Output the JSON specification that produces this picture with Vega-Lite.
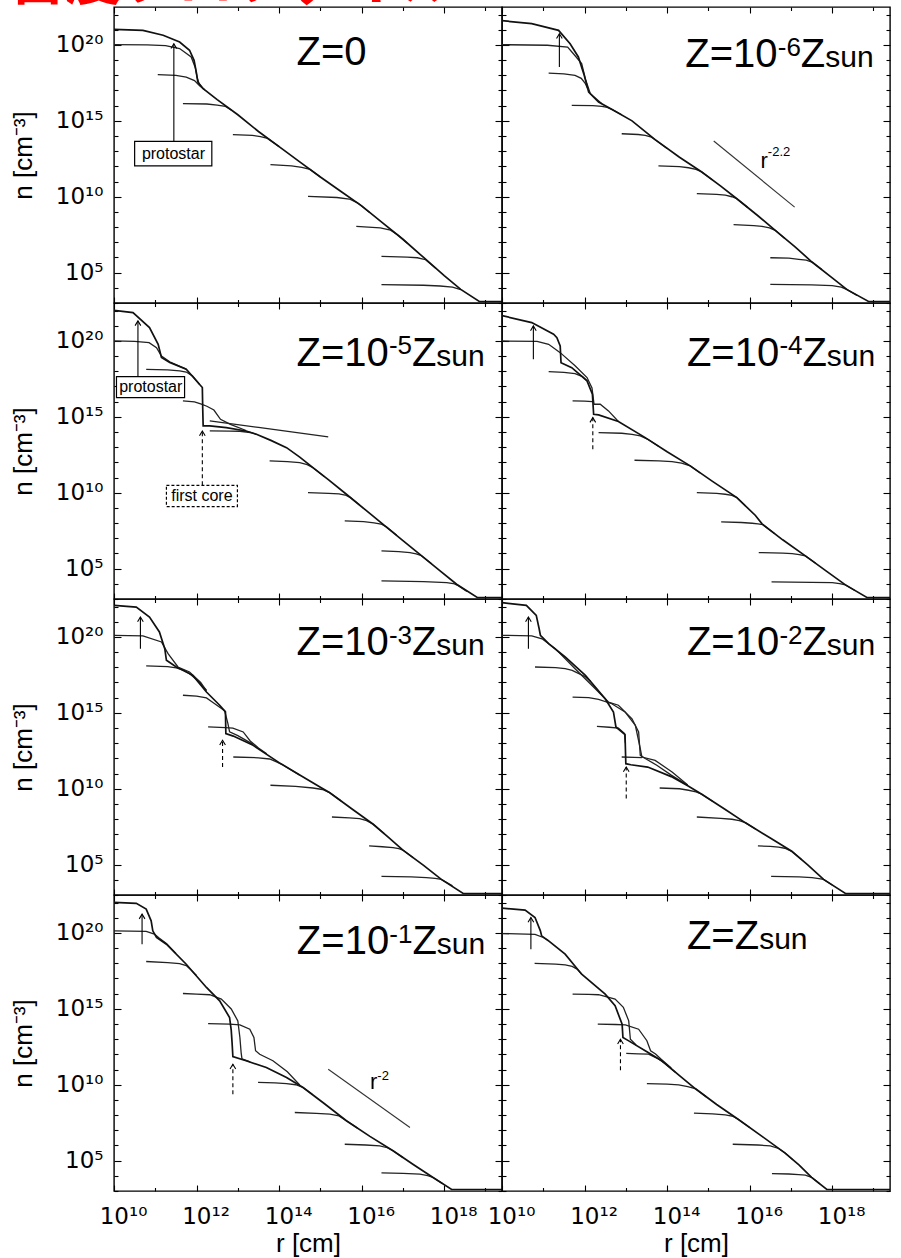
{
"$schema":"https://vega.github.io/schema/vega-lite/v6.json",
"background":"white",
"padding":{"left":9,"top":-47,"right":5,"bottom":0},
"title":{"text":"密度プロファイル","anchor":"start","font":"Noto Sans CJK JP","fontSize":56,"fontWeight":"bold","color":"#ff0000","offset":-8},
"config":{
 "view":{"stroke":"#000","strokeWidth":1.4},
 "axis":{"domain":false,"grid":false,"tickColor":"#000","tickWidth":1.1,"labelFont":"DejaVu Sans","labelFontSize":23,"labelColor":"#000","labelFlush":false,"labelOverlap":false,"labelBound":false,"titleFont":"Liberation Sans","titleFontSize":26,"titleFontWeight":"normal","titleColor":"#000"},
 "text":{"font":"Liberation Sans","color":"#000"},
 "point":{"opacity":1}
},
"datasets":{
"d1L":[
{"k":"m","logr":10,"logn":21.03},{"k":"m","logr":10.7,"logn":20.96},{"k":"m","logr":11.19,"logn":20.64},{"k":"m","logr":11.59,"logn":20.19},{"k":"m","logr":11.83,"logn":19.65},{"k":"m","logr":11.94,"logn":18.99},{"k":"m","logr":12.0,"logn":18.11},{"k":"m","logr":12.03,"logn":17.56},{"k":"m","logr":12.16,"logn":17.12},{"k":"m","logr":12.5,"logn":16.4},{"k":"m","logr":13.0,"logn":15.4},{"k":"m","logr":13.5,"logn":14.3},{"k":"m","logr":14.0,"logn":13.3},{"k":"m","logr":14.5,"logn":12.3},{"k":"m","logr":15.0,"logn":11.3},{"k":"m","logr":15.5,"logn":10.35},{"k":"m","logr":16.0,"logn":9.4},{"k":"m","logr":16.5,"logn":8.3},{"k":"m","logr":17.0,"logn":7.2},{"k":"m","logr":17.5,"logn":6.0},{"k":"m","logr":18.0,"logn":4.8},{"k":"m","logr":18.4,"logn":3.9},{"k":"m","logr":18.85,"logn":3.1},{"k":"m","logr":19.4,"logn":3.1},
{"k":"c","id":"B","logr":10,"logn":20.02},{"k":"c","id":"B","logr":10.8,"logn":20.0},{"k":"c","id":"B","logr":11.25,"logn":19.96},{"k":"c","id":"B","logr":11.59,"logn":19.76},{"k":"c","id":"B","logr":11.87,"logn":19.21},{"k":"c","id":"B","logr":11.97,"logn":18.5},{"k":"c","id":"B","logr":12.01,"logn":17.9},{"k":"c","id":"B","logr":12.06,"logn":17.45},{"k":"c","id":"B","logr":12.16,"logn":17.12},
{"k":"c","id":"C","logr":11.06,"logn":18.04},{"k":"c","id":"C","logr":11.5,"logn":18.0},{"k":"c","id":"C","logr":11.75,"logn":17.88},{"k":"c","id":"C","logr":11.95,"logn":17.65},{"k":"c","id":"C","logr":12.08,"logn":17.3},{"k":"c","id":"C","logr":12.2,"logn":17.04},
{"k":"c","id":"D","logr":11.67,"logn":16.13},{"k":"c","id":"D","logr":12.25,"logn":16.11},{"k":"c","id":"D","logr":12.5,"logn":16.04},{"k":"c","id":"D","logr":12.7,"logn":15.95},{"k":"c","id":"D","logr":12.85,"logn":15.7},
{"k":"c","id":"E","logr":12.88,"logn":14.09},{"k":"c","id":"E","logr":13.35,"logn":14.04},{"k":"c","id":"E","logr":13.55,"logn":13.96},{"k":"c","id":"E","logr":13.72,"logn":13.84},{"k":"c","id":"E","logr":14.0,"logn":13.3},
{"k":"c","id":"F","logr":13.79,"logn":12.11},{"k":"c","id":"F","logr":14.3,"logn":12.03},{"k":"c","id":"F","logr":14.55,"logn":11.93},{"k":"c","id":"F","logr":14.75,"logn":11.8},{"k":"c","id":"F","logr":15.0,"logn":11.3},
{"k":"c","id":"G","logr":14.7,"logn":10.03},{"k":"c","id":"G","logr":15.4,"logn":9.95},{"k":"c","id":"G","logr":15.7,"logn":9.85},{"k":"c","id":"G","logr":15.9,"logn":9.6},{"k":"c","id":"G","logr":16.2,"logn":8.95},
{"k":"c","id":"H","logr":15.87,"logn":8.05},{"k":"c","id":"H","logr":16.45,"logn":7.95},{"k":"c","id":"H","logr":16.7,"logn":7.8},{"k":"c","id":"H","logr":16.87,"logn":7.5},{"k":"c","id":"H","logr":17.1,"logn":6.96},
{"k":"c","id":"I","logr":16.48,"logn":6.07},{"k":"c","id":"I","logr":17.1,"logn":6.02},{"k":"c","id":"I","logr":17.35,"logn":5.98},{"k":"c","id":"I","logr":17.55,"logn":5.85},{"k":"c","id":"I","logr":17.8,"logn":5.28},
{"k":"c","id":"J","logr":16.48,"logn":4.21},{"k":"c","id":"J","logr":17.5,"logn":4.17},{"k":"c","id":"J","logr":17.9,"logn":4.12},{"k":"c","id":"J","logr":18.2,"logn":4.05},{"k":"c","id":"J","logr":18.4,"logn":3.88},
{"k":"a","logr":11.45,"logn":13.65,"logn2":20.08},
{"k":"b","logr":10.5,"logr2":12.37,"logn":12.03,"logn2":13.65},
{"k":"tl","logr":11.44,"logn":12.84,"txt":"protostar"},
{"k":"tb","logr":14.42,"logn":18.66,"txt":"Z=0"}
],
"d1R":[
{"k":"m","logr":10,"logn":21.6},{"k":"m","logr":10.72,"logn":21.4},{"k":"m","logr":11.37,"logn":20.96},{"k":"m","logr":11.65,"logn":20.08},{"k":"m","logr":11.85,"logn":19.21},{"k":"m","logr":11.98,"logn":18.11},{"k":"m","logr":12.1,"logn":16.9},{"k":"m","logr":12.34,"logn":16.24},{"k":"m","logr":12.7,"logn":15.7},{"k":"m","logr":13.15,"logn":15.0},{"k":"m","logr":13.71,"logn":13.76},{"k":"m","logr":14.3,"logn":12.6},{"k":"m","logr":14.84,"logn":11.63},{"k":"m","logr":15.3,"logn":10.7},{"k":"m","logr":15.69,"logn":9.87},{"k":"m","logr":16.2,"logn":8.75},{"k":"m","logr":16.62,"logn":7.79},{"k":"m","logr":17.1,"logn":6.7},{"k":"m","logr":17.51,"logn":5.7},{"k":"m","logr":18.0,"logn":4.65},{"k":"m","logr":18.36,"logn":3.88},{"k":"m","logr":18.88,"logn":3.1},{"k":"m","logr":19.4,"logn":3.1},
{"k":"c","id":"B","logr":10,"logn":20.02},{"k":"c","id":"B","logr":11.1,"logn":19.98},{"k":"c","id":"B","logr":11.59,"logn":19.86},{"k":"c","id":"B","logr":11.73,"logn":19.42},{"k":"c","id":"B","logr":11.93,"logn":18.77},{"k":"c","id":"B","logr":12.03,"logn":17.67},{"k":"c","id":"B","logr":12.14,"logn":16.79},{"k":"c","id":"B","logr":12.42,"logn":16.13},
{"k":"c","id":"C","logr":11.13,"logn":18.15},{"k":"c","id":"C","logr":11.5,"logn":18.1},{"k":"c","id":"C","logr":11.77,"logn":18.0},{"k":"c","id":"C","logr":11.92,"logn":17.8},{"k":"c","id":"C","logr":12.02,"logn":17.45},{"k":"c","id":"C","logr":12.08,"logn":17.1},
{"k":"c","id":"D","logr":11.69,"logn":16.02},{"k":"c","id":"D","logr":12.2,"logn":16.0},{"k":"c","id":"D","logr":12.42,"logn":15.96},{"k":"c","id":"D","logr":12.55,"logn":15.88},{"k":"c","id":"D","logr":12.66,"logn":15.76},{"k":"c","id":"D","logr":12.9,"logn":15.4},
{"k":"c","id":"E","logr":12.9,"logn":14.15},{"k":"c","id":"E","logr":13.3,"logn":14.1},{"k":"c","id":"E","logr":13.47,"logn":14.05},{"k":"c","id":"E","logr":13.6,"logn":13.95},{"k":"c","id":"E","logr":13.71,"logn":13.76},{"k":"c","id":"E","logr":14.0,"logn":13.18},
{"k":"c","id":"F","logr":13.79,"logn":12.03},{"k":"c","id":"F","logr":14.3,"logn":11.98},{"k":"c","id":"F","logr":14.52,"logn":11.91},{"k":"c","id":"F","logr":14.7,"logn":11.8},{"k":"c","id":"F","logr":14.84,"logn":11.63},{"k":"c","id":"F","logr":15.1,"logn":11.1},
{"k":"c","id":"G","logr":14.72,"logn":10.2},{"k":"c","id":"G","logr":15.2,"logn":10.15},{"k":"c","id":"G","logr":15.41,"logn":10.1},{"k":"c","id":"G","logr":15.57,"logn":10.0},{"k":"c","id":"G","logr":15.69,"logn":9.87},{"k":"c","id":"G","logr":15.95,"logn":9.3},
{"k":"c","id":"H","logr":15.61,"logn":8.16},{"k":"c","id":"H","logr":16.1,"logn":8.1},{"k":"c","id":"H","logr":16.3,"logn":8.05},{"k":"c","id":"H","logr":16.48,"logn":7.95},{"k":"c","id":"H","logr":16.62,"logn":7.79},{"k":"c","id":"H","logr":16.85,"logn":7.25},
{"k":"c","id":"I","logr":16.5,"logn":5.98},{"k":"c","id":"I","logr":16.95,"logn":5.95},{"k":"c","id":"I","logr":17.19,"logn":5.88},{"k":"c","id":"I","logr":17.37,"logn":5.82},{"k":"c","id":"I","logr":17.51,"logn":5.7},{"k":"c","id":"I","logr":17.75,"logn":5.2},
{"k":"c","id":"J","logr":16.5,"logn":4.23},{"k":"c","id":"J","logr":17.5,"logn":4.2},{"k":"c","id":"J","logr":18.0,"logn":4.14},{"k":"c","id":"J","logr":18.22,"logn":4.05},{"k":"c","id":"J","logr":18.36,"logn":3.88},{"k":"c","id":"J","logr":18.6,"logn":3.5},
{"k":"s","logr":15.13,"logn":13.67},{"k":"s","logr":17.09,"logn":9.32},
{"k":"tr","logr":16.26,"logn":11.89,"txt":"r"},{"k":"trs","logr":16.44,"logn":12.66,"txt":"-2.2"},
{"k":"a","logr":11.39,"logn":18.55,"logn2":20.74},
{"k":"tb","logr":14.44,"logn":18.55,"txt":"Z=10"},{"k":"ts","logr":16.68,"logn":19.3,"txt":"-6"},{"k":"tb","logr":17.24,"logn":18.55,"txt":"Z"},{"k":"tu","logr":17.83,"logn":18.55,"txt":"sun"}
],
"d2L":[
{"k":"m","logr":10,"logn":22.02},{"k":"m","logr":10.46,"logn":21.87},{"k":"m","logr":10.86,"logn":20.88},{"k":"m","logr":11.07,"logn":19.78},{"k":"m","logr":11.15,"logn":18.91},{"k":"m","logr":11.35,"logn":18.58},{"k":"m","logr":11.75,"logn":18.14},{"k":"m","logr":12.07,"logn":17.15},{"k":"m","logr":12.14,"logn":16.93},{"k":"m","logr":12.15,"logn":15.5},{"k":"m","logr":12.16,"logn":14.4},{"k":"m","logr":12.32,"logn":14.4},{"k":"m","logr":12.72,"logn":14.29},{"k":"m","logr":13.2,"logn":14.07},{"k":"m","logr":13.45,"logn":13.85},{"k":"m","logr":13.8,"logn":13.45},{"k":"m","logr":14.18,"logn":12.97},{"k":"m","logr":14.5,"logn":12.35},{"k":"m","logr":14.82,"logn":11.65},{"k":"m","logr":15.2,"logn":10.85},{"k":"m","logr":15.63,"logn":9.9},{"k":"m","logr":16.1,"logn":8.85},{"k":"m","logr":16.52,"logn":7.92},{"k":"m","logr":17.0,"logn":6.85},{"k":"m","logr":17.41,"logn":5.94},{"k":"m","logr":17.9,"logn":4.85},{"k":"m","logr":18.3,"logn":3.97},{"k":"m","logr":18.8,"logn":3.1},{"k":"m","logr":19.4,"logn":3.1},
{"k":"c","id":"B","logr":10,"logn":20.0},{"k":"c","id":"B","logr":10.5,"logn":19.97},{"k":"c","id":"B","logr":10.85,"logn":19.89},{"k":"c","id":"B","logr":11.03,"logn":19.56},{"k":"c","id":"B","logr":11.15,"logn":19.0},{"k":"c","id":"B","logr":11.35,"logn":18.62},{"k":"c","id":"B","logr":11.75,"logn":18.14},
{"k":"c","id":"C","logr":10.78,"logn":18.13},{"k":"c","id":"C","logr":11.3,"logn":18.1},{"k":"c","id":"C","logr":11.59,"logn":18.03},{"k":"c","id":"C","logr":11.75,"logn":17.95},{"k":"c","id":"C","logr":11.9,"logn":17.7},{"k":"c","id":"C","logr":12.07,"logn":17.15},
{"k":"c","id":"D","logr":11.67,"logn":16.05},{"k":"c","id":"D","logr":11.95,"logn":15.98},{"k":"c","id":"D","logr":12.1,"logn":15.85},{"k":"c","id":"D","logr":12.25,"logn":15.7},{"k":"c","id":"D","logr":12.42,"logn":15.45},{"k":"c","id":"D","logr":12.58,"logn":14.84},{"k":"c","id":"D","logr":12.82,"logn":14.51},{"k":"c","id":"D","logr":13.2,"logn":14.1},
{"k":"c","id":"S","logr":12.32,"logn":14.73},{"k":"c","id":"S","logr":13.5,"logn":14.3},{"k":"c","id":"S","logr":15.19,"logn":13.68},
{"k":"c","id":"E","logr":12.32,"logn":14.07},{"k":"c","id":"E","logr":12.8,"logn":14.06},{"k":"c","id":"E","logr":13.05,"logn":14.05},{"k":"c","id":"E","logr":13.3,"logn":13.97},{"k":"c","id":"E","logr":13.45,"logn":13.85},
{"k":"c","id":"F","logr":13.77,"logn":12.1},{"k":"c","id":"F","logr":14.2,"logn":12.05},{"k":"c","id":"F","logr":14.5,"logn":11.99},{"k":"c","id":"F","logr":14.68,"logn":11.85},{"k":"c","id":"F","logr":14.82,"logn":11.65},{"k":"c","id":"F","logr":15.1,"logn":11.06},
{"k":"c","id":"G","logr":14.7,"logn":10.01},{"k":"c","id":"G","logr":15.2,"logn":9.96},{"k":"c","id":"G","logr":15.45,"logn":9.92},{"k":"c","id":"G","logr":15.6,"logn":9.85},{"k":"c","id":"G","logr":15.72,"logn":9.7},{"k":"c","id":"G","logr":15.95,"logn":9.2},
{"k":"c","id":"H","logr":15.59,"logn":8.15},{"k":"c","id":"H","logr":16.05,"logn":8.1},{"k":"c","id":"H","logr":16.3,"logn":8.02},{"k":"c","id":"H","logr":16.47,"logn":7.94},{"k":"c","id":"H","logr":16.6,"logn":7.75},{"k":"c","id":"H","logr":16.85,"logn":7.2},
{"k":"c","id":"I","logr":16.48,"logn":6.17},{"k":"c","id":"I","logr":16.9,"logn":6.12},{"k":"c","id":"I","logr":17.17,"logn":6.06},{"k":"c","id":"I","logr":17.32,"logn":5.98},{"k":"c","id":"I","logr":17.45,"logn":5.85},{"k":"c","id":"I","logr":17.7,"logn":5.3},
{"k":"c","id":"J","logr":16.48,"logn":4.19},{"k":"c","id":"J","logr":17.5,"logn":4.14},{"k":"c","id":"J","logr":18.06,"logn":4.08},{"k":"c","id":"J","logr":18.22,"logn":4.02},{"k":"c","id":"J","logr":18.34,"logn":3.88},{"k":"c","id":"J","logr":18.55,"logn":3.5},
{"k":"a","logr":10.58,"logn":17.65,"logn2":21.32},
{"k":"b","logr":10.06,"logr2":11.71,"logn":16.27,"logn2":17.65},
{"k":"tl","logr":10.89,"logn":16.96,"txt":"protostar"},
{"k":"da","logr":12.14,"logn":10.49,"logn2":14.07},
{"k":"db","logr":11.27,"logr2":12.99,"logn":9.09,"logn2":10.49},
{"k":"tl","logr":12.13,"logn":9.79,"txt":"first core"},
{"k":"tb","logr":14.42,"logn":18.36,"txt":"Z=10"},{"k":"ts","logr":16.66,"logn":19.11,"txt":"-5"},{"k":"tb","logr":17.22,"logn":18.36,"txt":"Z"},{"k":"tu","logr":17.81,"logn":18.36,"txt":"sun"}
],
"d2R":[
{"k":"m","logr":10,"logn":21.67},{"k":"m","logr":10.72,"logn":21.21},{"k":"m","logr":11.25,"logn":20.44},{"k":"m","logr":11.33,"logn":20.22},{"k":"m","logr":11.41,"logn":19.67},{"k":"m","logr":11.43,"logn":18.57},{"k":"m","logr":11.69,"logn":18.24},{"k":"m","logr":12.06,"logn":17.37},{"k":"m","logr":12.19,"logn":16.49},{"k":"m","logr":12.22,"logn":15.17},{"k":"m","logr":12.34,"logn":15.13},{"k":"m","logr":12.82,"logn":14.69},{"k":"m","logr":13.47,"logn":13.63},{"k":"m","logr":14.0,"logn":12.7},{"k":"m","logr":14.56,"logn":11.77},{"k":"m","logr":15.1,"logn":10.75},{"k":"m","logr":15.69,"logn":9.68},{"k":"m","logr":16.14,"logn":8.5},{"k":"m","logr":16.3,"logn":7.95},{"k":"m","logr":16.8,"logn":6.9},{"k":"m","logr":17.35,"logn":5.84},{"k":"m","logr":17.85,"logn":4.85},{"k":"m","logr":18.32,"logn":3.93},{"k":"m","logr":18.84,"logn":3.1},{"k":"m","logr":19.4,"logn":3.1},
{"k":"c","id":"B","logr":10,"logn":20.0},{"k":"c","id":"B","logr":10.85,"logn":19.97},{"k":"c","id":"B","logr":11.13,"logn":19.78},{"k":"c","id":"B","logr":11.41,"logn":19.23},{"k":"c","id":"B","logr":11.77,"logn":18.36},{"k":"c","id":"B","logr":12.06,"logn":17.59},{"k":"c","id":"B","logr":12.18,"logn":16.9},{"k":"c","id":"B","logr":12.23,"logn":15.83},{"k":"c","id":"B","logr":12.38,"logn":15.83},{"k":"c","id":"B","logr":12.58,"logn":15.39},{"k":"c","id":"B","logr":12.82,"logn":14.69},
{"k":"c","id":"C","logr":11.13,"logn":17.98},{"k":"c","id":"C","logr":11.5,"logn":17.93},{"k":"c","id":"C","logr":11.77,"logn":17.85},{"k":"c","id":"C","logr":11.95,"logn":17.65},{"k":"c","id":"C","logr":12.06,"logn":17.37},
{"k":"c","id":"D","logr":11.71,"logn":16.05},{"k":"c","id":"D","logr":12.0,"logn":16.03},{"k":"c","id":"D","logr":12.19,"logn":16.0},
{"k":"c","id":"E","logr":12.34,"logn":13.96},{"k":"c","id":"E","logr":12.9,"logn":13.92},{"k":"c","id":"E","logr":13.15,"logn":13.85},{"k":"c","id":"E","logr":13.35,"logn":13.75},{"k":"c","id":"E","logr":13.55,"logn":13.49},{"k":"c","id":"E","logr":13.8,"logn":13.05},
{"k":"c","id":"F","logr":13.21,"logn":12.14},{"k":"c","id":"F","logr":13.8,"logn":12.1},{"k":"c","id":"F","logr":14.12,"logn":12.05},{"k":"c","id":"F","logr":14.35,"logn":11.95},{"k":"c","id":"F","logr":14.56,"logn":11.77},{"k":"c","id":"F","logr":14.8,"logn":11.3},
{"k":"c","id":"G","logr":14.72,"logn":10.01},{"k":"c","id":"G","logr":15.2,"logn":9.96},{"k":"c","id":"G","logr":15.41,"logn":9.9},{"k":"c","id":"G","logr":15.57,"logn":9.82},{"k":"c","id":"G","logr":15.69,"logn":9.68},{"k":"c","id":"G","logr":15.9,"logn":9.13},
{"k":"c","id":"H","logr":15.31,"logn":8.08},{"k":"c","id":"H","logr":15.8,"logn":8.04},{"k":"c","id":"H","logr":16.06,"logn":7.99},{"k":"c","id":"H","logr":16.2,"logn":7.95},{"k":"c","id":"H","logr":16.32,"logn":7.9},{"k":"c","id":"H","logr":16.6,"logn":7.32},
{"k":"c","id":"I","logr":16.22,"logn":6.06},{"k":"c","id":"I","logr":16.8,"logn":6.02},{"k":"c","id":"I","logr":17.03,"logn":5.99},{"k":"c","id":"I","logr":17.2,"logn":5.93},{"k":"c","id":"I","logr":17.35,"logn":5.84},{"k":"c","id":"I","logr":17.6,"logn":5.35},
{"k":"c","id":"J","logr":16.53,"logn":4.13},{"k":"c","id":"J","logr":17.5,"logn":4.1},{"k":"c","id":"J","logr":18.0,"logn":4.08},{"k":"c","id":"J","logr":18.18,"logn":4.02},{"k":"c","id":"J","logr":18.32,"logn":3.93},{"k":"c","id":"J","logr":18.55,"logn":3.56},
{"k":"a","logr":10.76,"logn":18.79,"logn2":20.99},
{"k":"da","logr":12.2,"logn":12.86,"logn2":14.95},
{"k":"tb","logr":14.48,"logn":18.36,"txt":"Z=10"},{"k":"ts","logr":16.72,"logn":19.11,"txt":"-4"},{"k":"tb","logr":17.28,"logn":18.36,"txt":"Z"},{"k":"tu","logr":17.87,"logn":18.36,"txt":"sun"}
],
"d3L":[
{"k":"m","logr":10,"logn":22.08},{"k":"m","logr":10.54,"logn":21.97},{"k":"m","logr":10.86,"logn":21.31},{"k":"m","logr":11.1,"logn":20.33},{"k":"m","logr":11.23,"logn":19.23},{"k":"m","logr":11.27,"logn":18.46},{"k":"m","logr":11.51,"logn":18.02},{"k":"m","logr":11.91,"logn":17.47},{"k":"m","logr":12.24,"logn":16.37},{"k":"m","logr":12.56,"logn":15.5},{"k":"m","logr":12.7,"logn":15.06},{"k":"m","logr":12.71,"logn":13.63},{"k":"m","logr":12.89,"logn":13.47},{"k":"m","logr":13.37,"logn":12.86},{"k":"m","logr":14.0,"logn":11.72},{"k":"m","logr":14.5,"logn":10.9},{"k":"m","logr":15.0,"logn":10.1},{"k":"m","logr":15.22,"logn":9.75},{"k":"m","logr":15.75,"logn":8.7},{"k":"m","logr":16.28,"logn":7.66},{"k":"m","logr":16.65,"logn":6.8},{"k":"m","logr":17.0,"logn":5.96},{"k":"m","logr":17.5,"logn":4.95},{"k":"m","logr":17.93,"logn":4.03},{"k":"m","logr":18.46,"logn":3.1},{"k":"m","logr":19.4,"logn":3.1},
{"k":"c","id":"B","logr":10,"logn":20.11},{"k":"c","id":"B","logr":10.7,"logn":20.07},{"k":"c","id":"B","logr":11.15,"logn":19.67},{"k":"c","id":"B","logr":11.31,"logn":18.9},{"k":"c","id":"B","logr":11.55,"logn":18.02},{"k":"c","id":"B","logr":11.83,"logn":17.69},{"k":"c","id":"B","logr":12.1,"logn":17.0},{"k":"c","id":"B","logr":12.24,"logn":16.45},
{"k":"c","id":"C","logr":10.78,"logn":18.09},{"k":"c","id":"C","logr":11.3,"logn":18.05},{"k":"c","id":"C","logr":11.51,"logn":17.96},{"k":"c","id":"C","logr":11.7,"logn":17.8},{"k":"c","id":"C","logr":11.83,"logn":17.58},{"k":"c","id":"C","logr":12.0,"logn":17.2},{"k":"c","id":"C","logr":12.24,"logn":16.5},
{"k":"c","id":"D","logr":11.67,"logn":16.16},{"k":"c","id":"D","logr":12.0,"logn":16.1},{"k":"c","id":"D","logr":12.24,"logn":15.98},{"k":"c","id":"D","logr":12.44,"logn":15.6},{"k":"c","id":"D","logr":12.68,"logn":15.14},{"k":"c","id":"D","logr":12.76,"logn":14.29},{"k":"c","id":"D","logr":12.8,"logn":13.75},{"k":"c","id":"D","logr":13.0,"logn":13.5},{"k":"c","id":"D","logr":13.37,"logn":12.92},
{"k":"c","id":"E","logr":12.28,"logn":14.07},{"k":"c","id":"E","logr":12.7,"logn":14.03},{"k":"c","id":"E","logr":12.88,"logn":14.0},{"k":"c","id":"E","logr":13.13,"logn":13.74},{"k":"c","id":"E","logr":13.3,"logn":13.15},{"k":"c","id":"E","logr":13.5,"logn":12.68},{"k":"c","id":"E","logr":13.7,"logn":12.3},
{"k":"c","id":"F","logr":12.89,"logn":12.09},{"k":"c","id":"F","logr":13.5,"logn":12.04},{"k":"c","id":"F","logr":13.77,"logn":11.96},{"k":"c","id":"F","logr":13.95,"logn":11.75},{"k":"c","id":"F","logr":14.1,"logn":11.55},{"k":"c","id":"F","logr":14.5,"logn":10.9},
{"k":"c","id":"G","logr":13.79,"logn":10.23},{"k":"c","id":"G","logr":14.4,"logn":10.15},{"k":"c","id":"G","logr":14.82,"logn":10.05},{"k":"c","id":"G","logr":15.05,"logn":9.95},{"k":"c","id":"G","logr":15.22,"logn":9.75},{"k":"c","id":"G","logr":15.5,"logn":9.2},
{"k":"c","id":"H","logr":15.28,"logn":8.14},{"k":"c","id":"H","logr":15.7,"logn":8.08},{"k":"c","id":"H","logr":15.95,"logn":8.03},{"k":"c","id":"H","logr":16.12,"logn":7.9},{"k":"c","id":"H","logr":16.28,"logn":7.66},{"k":"c","id":"H","logr":16.55,"logn":7.03},
{"k":"c","id":"I","logr":16.18,"logn":6.23},{"k":"c","id":"I","logr":16.5,"logn":6.18},{"k":"c","id":"I","logr":16.76,"logn":6.12},{"k":"c","id":"I","logr":16.9,"logn":6.05},{"k":"c","id":"I","logr":17.0,"logn":5.96},{"k":"c","id":"I","logr":17.25,"logn":5.45},
{"k":"c","id":"J","logr":16.48,"logn":4.23},{"k":"c","id":"J","logr":17.2,"logn":4.2},{"k":"c","id":"J","logr":17.57,"logn":4.14},{"k":"c","id":"J","logr":17.78,"logn":4.1},{"k":"c","id":"J","logr":17.93,"logn":4.03},{"k":"c","id":"J","logr":18.2,"logn":3.6},
{"k":"a","logr":10.64,"logn":19.23,"logn2":21.31},
{"k":"da","logr":12.63,"logn":11.43,"logn2":13.19},
{"k":"tb","logr":14.42,"logn":18.79,"txt":"Z=10"},{"k":"ts","logr":16.66,"logn":19.54,"txt":"-3"},{"k":"tb","logr":17.22,"logn":18.79,"txt":"Z"},{"k":"tu","logr":17.81,"logn":18.79,"txt":"sun"}
],
"d3R":[
{"k":"m","logr":10,"logn":22.26},{"k":"m","logr":10.59,"logn":22.08},{"k":"m","logr":10.83,"logn":21.42},{"k":"m","logr":10.9,"logn":20.54},{"k":"m","logr":10.93,"logn":20.11},{"k":"m","logr":11.13,"logn":19.56},{"k":"m","logr":11.53,"logn":18.68},{"k":"m","logr":12.02,"logn":17.47},{"k":"m","logr":12.5,"logn":15.93},{"k":"m","logr":12.7,"logn":15.06},{"k":"m","logr":12.76,"logn":14.07},{"k":"m","logr":12.98,"logn":13.56},{"k":"m","logr":13.0,"logn":11.65},{"k":"m","logr":13.12,"logn":11.58},{"k":"m","logr":13.53,"logn":11.43},{"k":"m","logr":14.1,"logn":10.8},{"k":"m","logr":14.5,"logn":10.2},{"k":"m","logr":14.84,"logn":9.64},{"k":"m","logr":15.4,"logn":8.65},{"k":"m","logr":15.89,"logn":7.77},{"k":"m","logr":16.5,"logn":6.75},{"k":"m","logr":17.02,"logn":5.88},{"k":"m","logr":17.4,"logn":5.0},{"k":"m","logr":17.79,"logn":4.03},{"k":"m","logr":18.32,"logn":3.1},{"k":"m","logr":19.4,"logn":3.1},
{"k":"c","id":"B","logr":10,"logn":20.11},{"k":"c","id":"B","logr":10.72,"logn":20.07},{"k":"c","id":"B","logr":10.97,"logn":19.88},{"k":"c","id":"B","logr":11.29,"logn":19.23},{"k":"c","id":"B","logr":11.77,"logn":17.91},{"k":"c","id":"B","logr":12.26,"logn":16.59},{"k":"c","id":"B","logr":12.58,"logn":15.71},{"k":"c","id":"B","logr":12.82,"logn":15.5},{"k":"c","id":"B","logr":13.15,"logn":14.61},{"k":"c","id":"B","logr":13.31,"logn":13.74},{"k":"c","id":"B","logr":13.35,"logn":12.2},{"k":"c","id":"B","logr":13.47,"logn":11.99},{"k":"c","id":"B","logr":13.75,"logn":11.55},{"k":"c","id":"B","logr":14.1,"logn":10.9},{"k":"c","id":"B","logr":14.5,"logn":10.22},
{"k":"c","id":"C","logr":10.8,"logn":18.02},{"k":"c","id":"C","logr":11.3,"logn":17.98},{"k":"c","id":"C","logr":11.53,"logn":17.91},{"k":"c","id":"C","logr":11.7,"logn":17.8},{"k":"c","id":"C","logr":11.85,"logn":17.6},{"k":"c","id":"C","logr":12.02,"logn":17.38},{"k":"c","id":"C","logr":12.15,"logn":17.06},
{"k":"c","id":"D","logr":11.71,"logn":16.04},{"k":"c","id":"D","logr":12.1,"logn":16.0},{"k":"c","id":"D","logr":12.34,"logn":15.89},{"k":"c","id":"D","logr":12.66,"logn":15.6},{"k":"c","id":"D","logr":12.98,"logn":15.06},{"k":"c","id":"D","logr":13.23,"logn":14.18},{"k":"c","id":"D","logr":13.35,"logn":12.64},{"k":"c","id":"D","logr":13.39,"logn":12.09},{"k":"c","id":"D","logr":13.71,"logn":11.87},{"k":"c","id":"D","logr":14.12,"logn":11.1},{"k":"c","id":"D","logr":14.5,"logn":10.25},
{"k":"c","id":"E","logr":12.3,"logn":14.11},{"k":"c","id":"E","logr":12.6,"logn":14.05},{"k":"c","id":"E","logr":12.82,"logn":14.0},{"k":"c","id":"E","logr":12.97,"logn":13.63},{"k":"c","id":"E","logr":12.99,"logn":13.0},
{"k":"c","id":"F","logr":12.9,"logn":12.09},{"k":"c","id":"F","logr":13.2,"logn":12.07},{"k":"c","id":"F","logr":13.39,"logn":12.05},
{"k":"c","id":"G","logr":13.82,"logn":10.05},{"k":"c","id":"G","logr":14.3,"logn":10.0},{"k":"c","id":"G","logr":14.52,"logn":9.9},{"k":"c","id":"G","logr":14.7,"logn":9.8},{"k":"c","id":"G","logr":14.84,"logn":9.64},{"k":"c","id":"G","logr":15.1,"logn":9.18},
{"k":"c","id":"H","logr":14.72,"logn":8.14},{"k":"c","id":"H","logr":15.3,"logn":8.05},{"k":"c","id":"H","logr":15.57,"logn":7.99},{"k":"c","id":"H","logr":15.75,"logn":7.9},{"k":"c","id":"H","logr":15.89,"logn":7.77},{"k":"c","id":"H","logr":16.15,"logn":7.33},
{"k":"c","id":"I","logr":16.2,"logn":6.23},{"k":"c","id":"I","logr":16.5,"logn":6.2},{"k":"c","id":"I","logr":16.7,"logn":6.15},{"k":"c","id":"I","logr":16.85,"logn":6.08},{"k":"c","id":"I","logr":17.02,"logn":5.88},{"k":"c","id":"I","logr":17.25,"logn":5.35},
{"k":"c","id":"J","logr":16.52,"logn":4.23},{"k":"c","id":"J","logr":17.2,"logn":4.19},{"k":"c","id":"J","logr":17.51,"logn":4.14},{"k":"c","id":"J","logr":17.68,"logn":4.08},{"k":"c","id":"J","logr":17.79,"logn":4.03},{"k":"c","id":"J","logr":18.0,"logn":3.66},
{"k":"a","logr":10.64,"logn":19.23,"logn2":21.31},
{"k":"da","logr":13.01,"logn":9.35,"logn2":11.43},
{"k":"tb","logr":14.48,"logn":18.79,"txt":"Z=10"},{"k":"ts","logr":16.72,"logn":19.54,"txt":"-2"},{"k":"tb","logr":17.28,"logn":18.79,"txt":"Z"},{"k":"tu","logr":17.87,"logn":18.79,"txt":"sun"}
],
"d4L":[
{"k":"m","logr":10,"logn":22.01},{"k":"m","logr":10.54,"logn":21.95},{"k":"m","logr":10.78,"logn":21.57},{"k":"m","logr":10.9,"logn":20.8},{"k":"m","logr":10.94,"logn":20.14},{"k":"m","logr":11.03,"logn":19.7},{"k":"m","logr":11.27,"logn":19.26},{"k":"m","logr":11.75,"logn":17.94},{"k":"m","logr":12.24,"logn":16.41},{"k":"m","logr":12.56,"logn":15.53},{"k":"m","logr":12.8,"logn":14.43},{"k":"m","logr":12.84,"logn":13.6},{"k":"m","logr":12.86,"logn":12.8},{"k":"m","logr":12.88,"logn":11.85},{"k":"m","logr":13.2,"logn":11.58},{"k":"m","logr":13.69,"logn":11.14},{"k":"m","logr":14.18,"logn":10.48},{"k":"m","logr":14.58,"logn":9.82},{"k":"m","logr":15.1,"logn":8.75},{"k":"m","logr":15.63,"logn":7.63},{"k":"m","logr":16.2,"logn":6.6},{"k":"m","logr":16.76,"logn":5.65},{"k":"m","logr":17.25,"logn":4.75},{"k":"m","logr":17.73,"logn":3.89},{"k":"m","logr":18.18,"logn":3.1},{"k":"m","logr":19.4,"logn":3.1},
{"k":"c","id":"B","logr":10,"logn":20.14},{"k":"c","id":"B","logr":10.78,"logn":20.1},{"k":"c","id":"B","logr":10.98,"logn":19.92},{"k":"c","id":"B","logr":11.1,"logn":19.65},{"k":"c","id":"B","logr":11.27,"logn":19.3},{"k":"c","id":"B","logr":11.5,"logn":18.65},
{"k":"c","id":"C","logr":10.78,"logn":18.12},{"k":"c","id":"C","logr":11.3,"logn":18.05},{"k":"c","id":"C","logr":11.59,"logn":17.98},{"k":"c","id":"C","logr":11.75,"logn":17.85},{"k":"c","id":"C","logr":11.85,"logn":17.6},{"k":"c","id":"C","logr":12.0,"logn":17.2},
{"k":"c","id":"D","logr":11.67,"logn":16.01},{"k":"c","id":"D","logr":12.0,"logn":15.97},{"k":"c","id":"D","logr":12.32,"logn":15.93},{"k":"c","id":"D","logr":12.6,"logn":15.64},{"k":"c","id":"D","logr":12.84,"logn":14.99},{"k":"c","id":"D","logr":13.0,"logn":14.21},{"k":"c","id":"D","logr":13.05,"logn":13.11},{"k":"c","id":"D","logr":13.08,"logn":12.12},{"k":"c","id":"D","logr":13.1,"logn":11.7},{"k":"c","id":"D","logr":13.3,"logn":11.5},
{"k":"c","id":"E","logr":12.28,"logn":14.03},{"k":"c","id":"E","logr":12.8,"logn":14.0},{"k":"c","id":"E","logr":13.05,"logn":13.95},{"k":"c","id":"E","logr":13.29,"logn":13.66},{"k":"c","id":"E","logr":13.39,"logn":13.11},{"k":"c","id":"E","logr":13.43,"logn":12.24},{"k":"c","id":"E","logr":13.53,"logn":12.01},{"k":"c","id":"E","logr":13.85,"logn":11.58},{"k":"c","id":"E","logr":14.2,"logn":10.85},{"k":"c","id":"E","logr":14.5,"logn":9.98},
{"k":"c","id":"F","logr":13.49,"logn":10.15},{"k":"c","id":"F","logr":13.9,"logn":10.12},{"k":"c","id":"F","logr":14.18,"logn":10.08},{"k":"c","id":"F","logr":14.4,"logn":10.0},{"k":"c","id":"F","logr":14.58,"logn":9.82},{"k":"c","id":"F","logr":14.8,"logn":9.37},
{"k":"c","id":"G","logr":14.38,"logn":8.17},{"k":"c","id":"G","logr":14.9,"logn":8.12},{"k":"c","id":"G","logr":15.23,"logn":8.06},{"k":"c","id":"G","logr":15.45,"logn":7.95},{"k":"c","id":"G","logr":15.63,"logn":7.63},{"k":"c","id":"G","logr":15.9,"logn":7.14},
{"k":"c","id":"H","logr":15.59,"logn":6.08},{"k":"c","id":"H","logr":16.1,"logn":6.03},{"k":"c","id":"H","logr":16.44,"logn":5.97},{"k":"c","id":"H","logr":16.62,"logn":5.85},{"k":"c","id":"H","logr":16.76,"logn":5.65},{"k":"c","id":"H","logr":17.0,"logn":5.2},
{"k":"c","id":"I","logr":16.48,"logn":4.2},{"k":"c","id":"I","logr":17.0,"logn":4.16},{"k":"c","id":"I","logr":17.41,"logn":4.11},{"k":"c","id":"I","logr":17.6,"logn":4.02},{"k":"c","id":"I","logr":17.73,"logn":3.89},{"k":"c","id":"I","logr":17.95,"logn":3.5},
{"k":"s","logr":15.19,"logn":11.02},{"k":"s","logr":17.17,"logn":7.18},
{"k":"tr","logr":16.2,"logn":9.71,"txt":"r"},{"k":"trs","logr":16.38,"logn":10.3,"txt":"-2"},
{"k":"a","logr":10.68,"logn":19.26,"logn2":21.24},
{"k":"da","logr":12.88,"logn":9.38,"logn2":11.35},
{"k":"tb","logr":14.43,"logn":18.6,"txt":"Z=10"},{"k":"ts","logr":16.67,"logn":19.35,"txt":"-1"},{"k":"tb","logr":17.23,"logn":18.6,"txt":"Z"},{"k":"tu","logr":17.82,"logn":18.6,"txt":"sun"}
],
"d4R":[
{"k":"m","logr":10,"logn":21.63},{"k":"m","logr":10.56,"logn":21.5},{"k":"m","logr":10.8,"logn":21.02},{"k":"m","logr":10.93,"logn":20.14},{"k":"m","logr":10.96,"logn":19.81},{"k":"m","logr":11.13,"logn":19.48},{"k":"m","logr":11.53,"logn":18.6},{"k":"m","logr":11.93,"logn":17.28},{"k":"m","logr":12.5,"logn":15.97},{"k":"m","logr":12.74,"logn":15.2},{"k":"m","logr":12.91,"logn":13.99},{"k":"m","logr":12.93,"logn":13.11},{"k":"m","logr":13.07,"logn":12.89},{"k":"m","logr":13.47,"logn":12.24},{"k":"m","logr":13.87,"logn":11.58},{"k":"m","logr":14.3,"logn":10.6},{"k":"m","logr":14.68,"logn":9.75},{"k":"m","logr":15.2,"logn":8.7},{"k":"m","logr":15.72,"logn":7.73},{"k":"m","logr":16.3,"logn":6.6},{"k":"m","logr":16.86,"logn":5.5},{"k":"m","logr":17.2,"logn":4.7},{"k":"m","logr":17.5,"logn":3.9},{"k":"m","logr":17.87,"logn":3.1},{"k":"m","logr":19.4,"logn":3.1},
{"k":"c","id":"B","logr":10,"logn":19.96},{"k":"c","id":"B","logr":10.8,"logn":19.91},{"k":"c","id":"B","logr":11.0,"logn":19.7},{"k":"c","id":"B","logr":11.13,"logn":19.48},
{"k":"c","id":"C","logr":10.79,"logn":17.99},{"k":"c","id":"C","logr":11.3,"logn":17.95},{"k":"c","id":"C","logr":11.53,"logn":17.9},{"k":"c","id":"C","logr":11.7,"logn":17.8},{"k":"c","id":"C","logr":11.82,"logn":17.62},{"k":"c","id":"C","logr":11.93,"logn":17.3},
{"k":"c","id":"D","logr":11.71,"logn":15.97},{"k":"c","id":"D","logr":12.1,"logn":15.95},{"k":"c","id":"D","logr":12.34,"logn":15.93},{"k":"c","id":"D","logr":12.74,"logn":15.64},{"k":"c","id":"D","logr":12.94,"logn":15.1},{"k":"c","id":"D","logr":13.07,"logn":14.21},{"k":"c","id":"D","logr":13.11,"logn":13.0},{"k":"c","id":"D","logr":13.25,"logn":12.62},
{"k":"c","id":"E","logr":12.32,"logn":13.99},{"k":"c","id":"E","logr":12.75,"logn":13.97},{"k":"c","id":"E","logr":12.99,"logn":13.95},{"k":"c","id":"E","logr":13.31,"logn":13.66},{"k":"c","id":"E","logr":13.51,"logn":12.9},{"k":"c","id":"E","logr":13.6,"logn":12.24},{"k":"c","id":"E","logr":13.72,"logn":12.02},{"k":"c","id":"E","logr":13.87,"logn":11.65},{"k":"c","id":"E","logr":14.1,"logn":11.1},
{"k":"c","id":"F","logr":13.01,"logn":12.06},{"k":"c","id":"F","logr":13.3,"logn":12.04},{"k":"c","id":"F","logr":13.55,"logn":12.02},{"k":"c","id":"F","logr":13.79,"logn":11.7},{"k":"c","id":"F","logr":13.95,"logn":11.4},{"k":"c","id":"F","logr":14.2,"logn":10.83},
{"k":"c","id":"G","logr":13.51,"logn":10.08},{"k":"c","id":"G","logr":14.0,"logn":10.04},{"k":"c","id":"G","logr":14.28,"logn":9.99},{"k":"c","id":"G","logr":14.5,"logn":9.88},{"k":"c","id":"G","logr":14.68,"logn":9.75},{"k":"c","id":"G","logr":14.95,"logn":9.2},
{"k":"c","id":"H","logr":14.65,"logn":8.13},{"k":"c","id":"H","logr":15.1,"logn":8.08},{"k":"c","id":"H","logr":15.41,"logn":8.02},{"k":"c","id":"H","logr":15.6,"logn":7.92},{"k":"c","id":"H","logr":15.72,"logn":7.73},{"k":"c","id":"H","logr":16.0,"logn":7.18},
{"k":"c","id":"I","logr":15.59,"logn":6.08},{"k":"c","id":"I","logr":16.2,"logn":6.03},{"k":"c","id":"I","logr":16.5,"logn":5.97},{"k":"c","id":"I","logr":16.7,"logn":5.8},{"k":"c","id":"I","logr":16.86,"logn":5.5},{"k":"c","id":"I","logr":17.05,"logn":5.05},
{"k":"c","id":"J","logr":16.54,"logn":4.15},{"k":"c","id":"J","logr":16.95,"logn":4.12},{"k":"c","id":"J","logr":17.19,"logn":4.08},{"k":"c","id":"J","logr":17.35,"logn":4.05},{"k":"c","id":"J","logr":17.5,"logn":3.9},{"k":"c","id":"J","logr":17.7,"logn":3.47},
{"k":"a","logr":10.7,"logn":18.93,"logn2":21.02},
{"k":"da","logr":12.87,"logn":10.96,"logn2":13.0},
{"k":"tb","logr":14.48,"logn":18.93,"txt":"Z=Z"},{"k":"tu","logr":16.23,"logn":18.93,"txt":"sun"}
]
},
"columns":2,
"spacing":0,
"bounds":"flush",
"concat":[
{"width":388,"height":296,"data":{"name":"d1L"},
 "encoding":{"x":{"field":"logr","type":"quantitative","scale":{"domain":[10,19.4],"nice":false,"zero":false},"axis":null},"y":{"field":"logn","type":"quantitative","scale":{"domain":[3,22.5],"nice":false,"zero":false},"axis":null}},
 "layer":[
  {"transform":[{"filter":"datum.k=='c'"}],"mark":{"type":"line","stroke":"#222","strokeWidth":1.3,"clip":true},"encoding":{"detail":{"field":"id"},
   "x":{"field":"logr","type":"quantitative","scale":{"domain":[10,19.4],"nice":false,"zero":false},"axis":{"orient":"bottom","values":[10,11,12,13,14,15,16,17,18,19],"tickSize":{"condition":{"test":"datum.value % 2 == 0","value":-6},"value":-3.5},"labels":false,"title":null}},
   "y":{"field":"logn","type":"quantitative","scale":{"domain":[3,22.5],"nice":false,"zero":false},"axis":{"orient":"left","values":[3,4,5,6,7,8,9,10,11,12,13,14,15,16,17,18,19,20,21,22],"tickSize":{"condition":{"test":"datum.value % 5 == 0","value":-7},"value":-4},"labelExpr":"datum.value % 5 == 0 ? '10' + replace(replace(replace(replace(format(datum.value,'d'),'0','⁰'),'1','¹'),'2','²'),'5','⁵') : ''","labelPadding":18,"title":"n [cm⁻³]","titlePadding":19}}}},
  {"transform":[{"filter":"datum.k=='m'"}],"mark":{"type":"line","stroke":"#111","strokeWidth":1.7,"clip":true},"encoding":{
   "x":{"field":"logr","type":"quantitative","scale":{"domain":[10,19.4],"nice":false,"zero":false},"axis":{"orient":"top","values":[10,11,12,13,14,15,16,17,18,19],"tickSize":{"condition":{"test":"datum.value % 2 == 0","value":-6},"value":-3.5},"labels":false,"title":null}},
   "y":{"field":"logn","type":"quantitative","scale":{"domain":[3,22.5],"nice":false,"zero":false},"axis":{"orient":"right","values":[3,4,5,6,7,8,9,10,11,12,13,14,15,16,17,18,19,20,21,22],"tickSize":{"condition":{"test":"datum.value % 5 == 0","value":-7},"value":-4},"labels":false,"title":null}}}},
  {"transform":[{"filter":"datum.k=='a'"}],"mark":{"type":"rule","stroke":"#000","strokeWidth":1.1},"encoding":{"y2":{"field":"logn2"}}},
  {"transform":[{"filter":"datum.k=='a'"}],"mark":{"type":"point","shape":"M-0.6,1L0,0L0.6,1","filled":false,"stroke":"#000","strokeWidth":1.1,"size":90,"opacity":1},"encoding":{"y":{"field":"logn2","type":"quantitative","scale":{"domain":[3,22.5],"nice":false,"zero":false},"axis":null}}},
  {"transform":[{"filter":"datum.k=='b'"}],"mark":{"type":"rect","fill":"#fff","stroke":"#000","strokeWidth":1.2},"encoding":{"x2":{"field":"logr2"},"y2":{"field":"logn2"}}},
  {"transform":[{"filter":"datum.k=='tl'"}],"mark":{"type":"text","fontSize":16,"align":"center","baseline":"middle"},"encoding":{"text":{"field":"txt"}}},
  {"transform":[{"filter":"datum.k=='tb'"}],"mark":{"type":"text","fontSize":40,"align":"left","baseline":"alphabetic"},"encoding":{"text":{"field":"txt"}}}
 ],
 "resolve":{"axis":{"x":"independent","y":"independent"}}},
{"width":388,"height":296,"data":{"name":"d1R"},
 "encoding":{"x":{"field":"logr","type":"quantitative","scale":{"domain":[10,19.4],"nice":false,"zero":false},"axis":null},"y":{"field":"logn","type":"quantitative","scale":{"domain":[3,22.5],"nice":false,"zero":false},"axis":null}},
 "layer":[
  {"transform":[{"filter":"datum.k=='c'"}],"mark":{"type":"line","stroke":"#222","strokeWidth":1.3,"clip":true},"encoding":{"detail":{"field":"id"},
   "x":{"field":"logr","type":"quantitative","scale":{"domain":[10,19.4],"nice":false,"zero":false},"axis":{"orient":"bottom","values":[10,11,12,13,14,15,16,17,18,19],"tickSize":{"condition":{"test":"datum.value % 2 == 0","value":-6},"value":-3.5},"labels":false,"title":null}},
   "y":{"field":"logn","type":"quantitative","scale":{"domain":[3,22.5],"nice":false,"zero":false},"axis":{"orient":"left","values":[3,4,5,6,7,8,9,10,11,12,13,14,15,16,17,18,19,20,21,22],"tickSize":{"condition":{"test":"datum.value % 5 == 0","value":-7},"value":-4},"labels":false,"title":null}}}},
  {"transform":[{"filter":"datum.k=='m'"}],"mark":{"type":"line","stroke":"#111","strokeWidth":1.7,"clip":true},"encoding":{
   "x":{"field":"logr","type":"quantitative","scale":{"domain":[10,19.4],"nice":false,"zero":false},"axis":{"orient":"top","values":[10,11,12,13,14,15,16,17,18,19],"tickSize":{"condition":{"test":"datum.value % 2 == 0","value":-6},"value":-3.5},"labels":false,"title":null}},
   "y":{"field":"logn","type":"quantitative","scale":{"domain":[3,22.5],"nice":false,"zero":false},"axis":{"orient":"right","values":[3,4,5,6,7,8,9,10,11,12,13,14,15,16,17,18,19,20,21,22],"tickSize":{"condition":{"test":"datum.value % 5 == 0","value":-7},"value":-4},"labels":false,"title":null}}}},
  {"transform":[{"filter":"datum.k=='s'"}],"mark":{"type":"line","stroke":"#333","strokeWidth":1.1},"encoding":{}},
  {"transform":[{"filter":"datum.k=='a'"}],"mark":{"type":"rule","stroke":"#000","strokeWidth":1.1},"encoding":{"y2":{"field":"logn2"}}},
  {"transform":[{"filter":"datum.k=='a'"}],"mark":{"type":"point","shape":"M-0.6,1L0,0L0.6,1","filled":false,"stroke":"#000","strokeWidth":1.1,"size":90,"opacity":1},"encoding":{"y":{"field":"logn2","type":"quantitative","scale":{"domain":[3,22.5],"nice":false,"zero":false},"axis":null}}},
  {"transform":[{"filter":"datum.k=='tb'"}],"mark":{"type":"text","fontSize":40,"align":"left","baseline":"alphabetic"},"encoding":{"text":{"field":"txt"}}},
  {"transform":[{"filter":"datum.k=='ts'"}],"mark":{"type":"text","fontSize":26,"align":"left","baseline":"alphabetic"},"encoding":{"text":{"field":"txt"}}},
  {"transform":[{"filter":"datum.k=='tu'"}],"mark":{"type":"text","fontSize":30,"align":"left","baseline":"alphabetic"},"encoding":{"text":{"field":"txt"}}},
  {"transform":[{"filter":"datum.k=='tr'"}],"mark":{"type":"text","fontSize":22,"align":"left","baseline":"alphabetic"},"encoding":{"text":{"field":"txt"}}},
  {"transform":[{"filter":"datum.k=='trs'"}],"mark":{"type":"text","fontSize":13,"align":"left","baseline":"alphabetic"},"encoding":{"text":{"field":"txt"}}}
 ],
 "resolve":{"axis":{"x":"independent","y":"independent"}}},
{"width":388,"height":296,"data":{"name":"d2L"},
 "encoding":{"x":{"field":"logr","type":"quantitative","scale":{"domain":[10,19.4],"nice":false,"zero":false},"axis":null},"y":{"field":"logn","type":"quantitative","scale":{"domain":[3,22.5],"nice":false,"zero":false},"axis":null}},
 "layer":[
  {"transform":[{"filter":"datum.k=='c'"}],"mark":{"type":"line","stroke":"#222","strokeWidth":1.3,"clip":true},"encoding":{"detail":{"field":"id"},
   "x":{"field":"logr","type":"quantitative","scale":{"domain":[10,19.4],"nice":false,"zero":false},"axis":{"orient":"bottom","values":[10,11,12,13,14,15,16,17,18,19],"tickSize":{"condition":{"test":"datum.value % 2 == 0","value":-6},"value":-3.5},"labels":false,"title":null}},
   "y":{"field":"logn","type":"quantitative","scale":{"domain":[3,22.5],"nice":false,"zero":false},"axis":{"orient":"left","values":[3,4,5,6,7,8,9,10,11,12,13,14,15,16,17,18,19,20,21,22],"tickSize":{"condition":{"test":"datum.value % 5 == 0","value":-7},"value":-4},"labelExpr":"datum.value % 5 == 0 ? '10' + replace(replace(replace(replace(format(datum.value,'d'),'0','⁰'),'1','¹'),'2','²'),'5','⁵') : ''","labelPadding":18,"title":"n [cm⁻³]","titlePadding":19}}}},
  {"transform":[{"filter":"datum.k=='m'"}],"mark":{"type":"line","stroke":"#111","strokeWidth":1.7,"clip":true},"encoding":{
   "x":{"field":"logr","type":"quantitative","scale":{"domain":[10,19.4],"nice":false,"zero":false},"axis":{"orient":"top","values":[10,11,12,13,14,15,16,17,18,19],"tickSize":{"condition":{"test":"datum.value % 2 == 0","value":-6},"value":-3.5},"labels":false,"title":null}},
   "y":{"field":"logn","type":"quantitative","scale":{"domain":[3,22.5],"nice":false,"zero":false},"axis":{"orient":"right","values":[3,4,5,6,7,8,9,10,11,12,13,14,15,16,17,18,19,20,21,22],"tickSize":{"condition":{"test":"datum.value % 5 == 0","value":-7},"value":-4},"labels":false,"title":null}}}},
  {"transform":[{"filter":"datum.k=='a'"}],"mark":{"type":"rule","stroke":"#000","strokeWidth":1.1},"encoding":{"y2":{"field":"logn2"}}},
  {"transform":[{"filter":"datum.k=='da'"}],"mark":{"type":"rule","stroke":"#000","strokeWidth":1.1,"strokeDash":[4,3]},"encoding":{"y2":{"field":"logn2"}}},
  {"transform":[{"filter":"datum.k=='a'||datum.k=='da'"}],"mark":{"type":"point","shape":"M-0.6,1L0,0L0.6,1","filled":false,"stroke":"#000","strokeWidth":1.1,"size":90,"opacity":1},"encoding":{"y":{"field":"logn2","type":"quantitative","scale":{"domain":[3,22.5],"nice":false,"zero":false},"axis":null}}},
  {"transform":[{"filter":"datum.k=='b'"}],"mark":{"type":"rect","fill":"#fff","stroke":"#000","strokeWidth":1.2},"encoding":{"x2":{"field":"logr2"},"y2":{"field":"logn2"}}},
  {"transform":[{"filter":"datum.k=='db'"}],"mark":{"type":"rect","fill":"#fff","stroke":"#000","strokeWidth":1.2,"strokeDash":[3,2]},"encoding":{"x2":{"field":"logr2"},"y2":{"field":"logn2"}}},
  {"transform":[{"filter":"datum.k=='tl'"}],"mark":{"type":"text","fontSize":16,"align":"center","baseline":"middle"},"encoding":{"text":{"field":"txt"}}},
  {"transform":[{"filter":"datum.k=='tb'"}],"mark":{"type":"text","fontSize":40,"align":"left","baseline":"alphabetic"},"encoding":{"text":{"field":"txt"}}},
  {"transform":[{"filter":"datum.k=='ts'"}],"mark":{"type":"text","fontSize":26,"align":"left","baseline":"alphabetic"},"encoding":{"text":{"field":"txt"}}},
  {"transform":[{"filter":"datum.k=='tu'"}],"mark":{"type":"text","fontSize":30,"align":"left","baseline":"alphabetic"},"encoding":{"text":{"field":"txt"}}}
 ],
 "resolve":{"axis":{"x":"independent","y":"independent"}}},
{"width":388,"height":296,"data":{"name":"d2R"},
 "encoding":{"x":{"field":"logr","type":"quantitative","scale":{"domain":[10,19.4],"nice":false,"zero":false},"axis":null},"y":{"field":"logn","type":"quantitative","scale":{"domain":[3,22.5],"nice":false,"zero":false},"axis":null}},
 "layer":[
  {"transform":[{"filter":"datum.k=='c'"}],"mark":{"type":"line","stroke":"#222","strokeWidth":1.3,"clip":true},"encoding":{"detail":{"field":"id"},
   "x":{"field":"logr","type":"quantitative","scale":{"domain":[10,19.4],"nice":false,"zero":false},"axis":{"orient":"bottom","values":[10,11,12,13,14,15,16,17,18,19],"tickSize":{"condition":{"test":"datum.value % 2 == 0","value":-6},"value":-3.5},"labels":false,"title":null}},
   "y":{"field":"logn","type":"quantitative","scale":{"domain":[3,22.5],"nice":false,"zero":false},"axis":{"orient":"left","values":[3,4,5,6,7,8,9,10,11,12,13,14,15,16,17,18,19,20,21,22],"tickSize":{"condition":{"test":"datum.value % 5 == 0","value":-7},"value":-4},"labels":false,"title":null}}}},
  {"transform":[{"filter":"datum.k=='m'"}],"mark":{"type":"line","stroke":"#111","strokeWidth":1.7,"clip":true},"encoding":{
   "x":{"field":"logr","type":"quantitative","scale":{"domain":[10,19.4],"nice":false,"zero":false},"axis":{"orient":"top","values":[10,11,12,13,14,15,16,17,18,19],"tickSize":{"condition":{"test":"datum.value % 2 == 0","value":-6},"value":-3.5},"labels":false,"title":null}},
   "y":{"field":"logn","type":"quantitative","scale":{"domain":[3,22.5],"nice":false,"zero":false},"axis":{"orient":"right","values":[3,4,5,6,7,8,9,10,11,12,13,14,15,16,17,18,19,20,21,22],"tickSize":{"condition":{"test":"datum.value % 5 == 0","value":-7},"value":-4},"labels":false,"title":null}}}},
  {"transform":[{"filter":"datum.k=='a'"}],"mark":{"type":"rule","stroke":"#000","strokeWidth":1.1},"encoding":{"y2":{"field":"logn2"}}},
  {"transform":[{"filter":"datum.k=='da'"}],"mark":{"type":"rule","stroke":"#000","strokeWidth":1.1,"strokeDash":[4,3]},"encoding":{"y2":{"field":"logn2"}}},
  {"transform":[{"filter":"datum.k=='a'||datum.k=='da'"}],"mark":{"type":"point","shape":"M-0.6,1L0,0L0.6,1","filled":false,"stroke":"#000","strokeWidth":1.1,"size":90,"opacity":1},"encoding":{"y":{"field":"logn2","type":"quantitative","scale":{"domain":[3,22.5],"nice":false,"zero":false},"axis":null}}},
  {"transform":[{"filter":"datum.k=='tb'"}],"mark":{"type":"text","fontSize":40,"align":"left","baseline":"alphabetic"},"encoding":{"text":{"field":"txt"}}},
  {"transform":[{"filter":"datum.k=='ts'"}],"mark":{"type":"text","fontSize":26,"align":"left","baseline":"alphabetic"},"encoding":{"text":{"field":"txt"}}},
  {"transform":[{"filter":"datum.k=='tu'"}],"mark":{"type":"text","fontSize":30,"align":"left","baseline":"alphabetic"},"encoding":{"text":{"field":"txt"}}}
 ],
 "resolve":{"axis":{"x":"independent","y":"independent"}}},
{"width":388,"height":296,"data":{"name":"d3L"},
 "encoding":{"x":{"field":"logr","type":"quantitative","scale":{"domain":[10,19.4],"nice":false,"zero":false},"axis":null},"y":{"field":"logn","type":"quantitative","scale":{"domain":[3,22.5],"nice":false,"zero":false},"axis":null}},
 "layer":[
  {"transform":[{"filter":"datum.k=='c'"}],"mark":{"type":"line","stroke":"#222","strokeWidth":1.3,"clip":true},"encoding":{"detail":{"field":"id"},
   "x":{"field":"logr","type":"quantitative","scale":{"domain":[10,19.4],"nice":false,"zero":false},"axis":{"orient":"bottom","values":[10,11,12,13,14,15,16,17,18,19],"tickSize":{"condition":{"test":"datum.value % 2 == 0","value":-6},"value":-3.5},"labels":false,"title":null}},
   "y":{"field":"logn","type":"quantitative","scale":{"domain":[3,22.5],"nice":false,"zero":false},"axis":{"orient":"left","values":[3,4,5,6,7,8,9,10,11,12,13,14,15,16,17,18,19,20,21,22],"tickSize":{"condition":{"test":"datum.value % 5 == 0","value":-7},"value":-4},"labelExpr":"datum.value % 5 == 0 ? '10' + replace(replace(replace(replace(format(datum.value,'d'),'0','⁰'),'1','¹'),'2','²'),'5','⁵') : ''","labelPadding":18,"title":"n [cm⁻³]","titlePadding":19}}}},
  {"transform":[{"filter":"datum.k=='m'"}],"mark":{"type":"line","stroke":"#111","strokeWidth":1.7,"clip":true},"encoding":{
   "x":{"field":"logr","type":"quantitative","scale":{"domain":[10,19.4],"nice":false,"zero":false},"axis":{"orient":"top","values":[10,11,12,13,14,15,16,17,18,19],"tickSize":{"condition":{"test":"datum.value % 2 == 0","value":-6},"value":-3.5},"labels":false,"title":null}},
   "y":{"field":"logn","type":"quantitative","scale":{"domain":[3,22.5],"nice":false,"zero":false},"axis":{"orient":"right","values":[3,4,5,6,7,8,9,10,11,12,13,14,15,16,17,18,19,20,21,22],"tickSize":{"condition":{"test":"datum.value % 5 == 0","value":-7},"value":-4},"labels":false,"title":null}}}},
  {"transform":[{"filter":"datum.k=='a'"}],"mark":{"type":"rule","stroke":"#000","strokeWidth":1.1},"encoding":{"y2":{"field":"logn2"}}},
  {"transform":[{"filter":"datum.k=='da'"}],"mark":{"type":"rule","stroke":"#000","strokeWidth":1.1,"strokeDash":[4,3]},"encoding":{"y2":{"field":"logn2"}}},
  {"transform":[{"filter":"datum.k=='a'||datum.k=='da'"}],"mark":{"type":"point","shape":"M-0.6,1L0,0L0.6,1","filled":false,"stroke":"#000","strokeWidth":1.1,"size":90,"opacity":1},"encoding":{"y":{"field":"logn2","type":"quantitative","scale":{"domain":[3,22.5],"nice":false,"zero":false},"axis":null}}},
  {"transform":[{"filter":"datum.k=='tb'"}],"mark":{"type":"text","fontSize":40,"align":"left","baseline":"alphabetic"},"encoding":{"text":{"field":"txt"}}},
  {"transform":[{"filter":"datum.k=='ts'"}],"mark":{"type":"text","fontSize":26,"align":"left","baseline":"alphabetic"},"encoding":{"text":{"field":"txt"}}},
  {"transform":[{"filter":"datum.k=='tu'"}],"mark":{"type":"text","fontSize":30,"align":"left","baseline":"alphabetic"},"encoding":{"text":{"field":"txt"}}}
 ],
 "resolve":{"axis":{"x":"independent","y":"independent"}}},
{"width":388,"height":296,"data":{"name":"d3R"},
 "encoding":{"x":{"field":"logr","type":"quantitative","scale":{"domain":[10,19.4],"nice":false,"zero":false},"axis":null},"y":{"field":"logn","type":"quantitative","scale":{"domain":[3,22.5],"nice":false,"zero":false},"axis":null}},
 "layer":[
  {"transform":[{"filter":"datum.k=='c'"}],"mark":{"type":"line","stroke":"#222","strokeWidth":1.3,"clip":true},"encoding":{"detail":{"field":"id"},
   "x":{"field":"logr","type":"quantitative","scale":{"domain":[10,19.4],"nice":false,"zero":false},"axis":{"orient":"bottom","values":[10,11,12,13,14,15,16,17,18,19],"tickSize":{"condition":{"test":"datum.value % 2 == 0","value":-6},"value":-3.5},"labels":false,"title":null}},
   "y":{"field":"logn","type":"quantitative","scale":{"domain":[3,22.5],"nice":false,"zero":false},"axis":{"orient":"left","values":[3,4,5,6,7,8,9,10,11,12,13,14,15,16,17,18,19,20,21,22],"tickSize":{"condition":{"test":"datum.value % 5 == 0","value":-7},"value":-4},"labels":false,"title":null}}}},
  {"transform":[{"filter":"datum.k=='m'"}],"mark":{"type":"line","stroke":"#111","strokeWidth":1.7,"clip":true},"encoding":{
   "x":{"field":"logr","type":"quantitative","scale":{"domain":[10,19.4],"nice":false,"zero":false},"axis":{"orient":"top","values":[10,11,12,13,14,15,16,17,18,19],"tickSize":{"condition":{"test":"datum.value % 2 == 0","value":-6},"value":-3.5},"labels":false,"title":null}},
   "y":{"field":"logn","type":"quantitative","scale":{"domain":[3,22.5],"nice":false,"zero":false},"axis":{"orient":"right","values":[3,4,5,6,7,8,9,10,11,12,13,14,15,16,17,18,19,20,21,22],"tickSize":{"condition":{"test":"datum.value % 5 == 0","value":-7},"value":-4},"labels":false,"title":null}}}},
  {"transform":[{"filter":"datum.k=='a'"}],"mark":{"type":"rule","stroke":"#000","strokeWidth":1.1},"encoding":{"y2":{"field":"logn2"}}},
  {"transform":[{"filter":"datum.k=='da'"}],"mark":{"type":"rule","stroke":"#000","strokeWidth":1.1,"strokeDash":[4,3]},"encoding":{"y2":{"field":"logn2"}}},
  {"transform":[{"filter":"datum.k=='a'||datum.k=='da'"}],"mark":{"type":"point","shape":"M-0.6,1L0,0L0.6,1","filled":false,"stroke":"#000","strokeWidth":1.1,"size":90,"opacity":1},"encoding":{"y":{"field":"logn2","type":"quantitative","scale":{"domain":[3,22.5],"nice":false,"zero":false},"axis":null}}},
  {"transform":[{"filter":"datum.k=='tb'"}],"mark":{"type":"text","fontSize":40,"align":"left","baseline":"alphabetic"},"encoding":{"text":{"field":"txt"}}},
  {"transform":[{"filter":"datum.k=='ts'"}],"mark":{"type":"text","fontSize":26,"align":"left","baseline":"alphabetic"},"encoding":{"text":{"field":"txt"}}},
  {"transform":[{"filter":"datum.k=='tu'"}],"mark":{"type":"text","fontSize":30,"align":"left","baseline":"alphabetic"},"encoding":{"text":{"field":"txt"}}}
 ],
 "resolve":{"axis":{"x":"independent","y":"independent"}}},
{"width":388,"height":296,"data":{"name":"d4L"},
 "encoding":{"x":{"field":"logr","type":"quantitative","scale":{"domain":[10,19.4],"nice":false,"zero":false},"axis":null},"y":{"field":"logn","type":"quantitative","scale":{"domain":[3,22.5],"nice":false,"zero":false},"axis":null}},
 "layer":[
  {"transform":[{"filter":"datum.k=='c'"}],"mark":{"type":"line","stroke":"#222","strokeWidth":1.3,"clip":true},"encoding":{"detail":{"field":"id"},
   "x":{"field":"logr","type":"quantitative","scale":{"domain":[10,19.4],"nice":false,"zero":false},"axis":{"orient":"bottom","values":[10,11,12,13,14,15,16,17,18,19],"tickSize":{"condition":{"test":"datum.value % 2 == 0","value":-6},"value":-3.5},"labelExpr":"datum.value % 2 == 0 ? '10' + replace(replace(replace(replace(replace(replace(replace(format(datum.value,'d'),'0','⁰'),'1','¹'),'2','²'),'4','⁴'),'5','⁵'),'6','⁶'),'8','⁸') : ''","labelPadding":20,"labelOffset":9,"title":"r [cm]","titlePadding":0}},
   "y":{"field":"logn","type":"quantitative","scale":{"domain":[3,22.5],"nice":false,"zero":false},"axis":{"orient":"left","values":[3,4,5,6,7,8,9,10,11,12,13,14,15,16,17,18,19,20,21,22],"tickSize":{"condition":{"test":"datum.value % 5 == 0","value":-7},"value":-4},"labelExpr":"datum.value % 5 == 0 ? '10' + replace(replace(replace(replace(format(datum.value,'d'),'0','⁰'),'1','¹'),'2','²'),'5','⁵') : ''","labelPadding":18,"title":"n [cm⁻³]","titlePadding":19}}}},
  {"transform":[{"filter":"datum.k=='m'"}],"mark":{"type":"line","stroke":"#111","strokeWidth":1.7,"clip":true},"encoding":{
   "x":{"field":"logr","type":"quantitative","scale":{"domain":[10,19.4],"nice":false,"zero":false},"axis":{"orient":"top","values":[10,11,12,13,14,15,16,17,18,19],"tickSize":{"condition":{"test":"datum.value % 2 == 0","value":-6},"value":-3.5},"labels":false,"title":null}},
   "y":{"field":"logn","type":"quantitative","scale":{"domain":[3,22.5],"nice":false,"zero":false},"axis":{"orient":"right","values":[3,4,5,6,7,8,9,10,11,12,13,14,15,16,17,18,19,20,21,22],"tickSize":{"condition":{"test":"datum.value % 5 == 0","value":-7},"value":-4},"labels":false,"title":null}}}},
  {"transform":[{"filter":"datum.k=='s'"}],"mark":{"type":"line","stroke":"#333","strokeWidth":1.1},"encoding":{}},
  {"transform":[{"filter":"datum.k=='a'"}],"mark":{"type":"rule","stroke":"#000","strokeWidth":1.1},"encoding":{"y2":{"field":"logn2"}}},
  {"transform":[{"filter":"datum.k=='da'"}],"mark":{"type":"rule","stroke":"#000","strokeWidth":1.1,"strokeDash":[4,3]},"encoding":{"y2":{"field":"logn2"}}},
  {"transform":[{"filter":"datum.k=='a'||datum.k=='da'"}],"mark":{"type":"point","shape":"M-0.6,1L0,0L0.6,1","filled":false,"stroke":"#000","strokeWidth":1.1,"size":90,"opacity":1},"encoding":{"y":{"field":"logn2","type":"quantitative","scale":{"domain":[3,22.5],"nice":false,"zero":false},"axis":null}}},
  {"transform":[{"filter":"datum.k=='tb'"}],"mark":{"type":"text","fontSize":40,"align":"left","baseline":"alphabetic"},"encoding":{"text":{"field":"txt"}}},
  {"transform":[{"filter":"datum.k=='ts'"}],"mark":{"type":"text","fontSize":26,"align":"left","baseline":"alphabetic"},"encoding":{"text":{"field":"txt"}}},
  {"transform":[{"filter":"datum.k=='tu'"}],"mark":{"type":"text","fontSize":30,"align":"left","baseline":"alphabetic"},"encoding":{"text":{"field":"txt"}}},
  {"transform":[{"filter":"datum.k=='tr'"}],"mark":{"type":"text","fontSize":22,"align":"left","baseline":"alphabetic"},"encoding":{"text":{"field":"txt"}}},
  {"transform":[{"filter":"datum.k=='trs'"}],"mark":{"type":"text","fontSize":13,"align":"left","baseline":"alphabetic"},"encoding":{"text":{"field":"txt"}}}
 ],
 "resolve":{"axis":{"x":"independent","y":"independent"}}},
{"width":388,"height":296,"data":{"name":"d4R"},
 "encoding":{"x":{"field":"logr","type":"quantitative","scale":{"domain":[10,19.4],"nice":false,"zero":false},"axis":null},"y":{"field":"logn","type":"quantitative","scale":{"domain":[3,22.5],"nice":false,"zero":false},"axis":null}},
 "layer":[
  {"transform":[{"filter":"datum.k=='c'"}],"mark":{"type":"line","stroke":"#222","strokeWidth":1.3,"clip":true},"encoding":{"detail":{"field":"id"},
   "x":{"field":"logr","type":"quantitative","scale":{"domain":[10,19.4],"nice":false,"zero":false},"axis":{"orient":"bottom","values":[10,11,12,13,14,15,16,17,18,19],"tickSize":{"condition":{"test":"datum.value % 2 == 0","value":-6},"value":-3.5},"labelExpr":"datum.value % 2 == 0 ? '10' + replace(replace(replace(replace(replace(replace(replace(format(datum.value,'d'),'0','⁰'),'1','¹'),'2','²'),'4','⁴'),'5','⁵'),'6','⁶'),'8','⁸') : ''","labelPadding":20,"labelOffset":9,"title":"r [cm]","titlePadding":0}},
   "y":{"field":"logn","type":"quantitative","scale":{"domain":[3,22.5],"nice":false,"zero":false},"axis":{"orient":"left","values":[3,4,5,6,7,8,9,10,11,12,13,14,15,16,17,18,19,20,21,22],"tickSize":{"condition":{"test":"datum.value % 5 == 0","value":-7},"value":-4},"labels":false,"title":null}}}},
  {"transform":[{"filter":"datum.k=='m'"}],"mark":{"type":"line","stroke":"#111","strokeWidth":1.7,"clip":true},"encoding":{
   "x":{"field":"logr","type":"quantitative","scale":{"domain":[10,19.4],"nice":false,"zero":false},"axis":{"orient":"top","values":[10,11,12,13,14,15,16,17,18,19],"tickSize":{"condition":{"test":"datum.value % 2 == 0","value":-6},"value":-3.5},"labels":false,"title":null}},
   "y":{"field":"logn","type":"quantitative","scale":{"domain":[3,22.5],"nice":false,"zero":false},"axis":{"orient":"right","values":[3,4,5,6,7,8,9,10,11,12,13,14,15,16,17,18,19,20,21,22],"tickSize":{"condition":{"test":"datum.value % 5 == 0","value":-7},"value":-4},"labels":false,"title":null}}}},
  {"transform":[{"filter":"datum.k=='a'"}],"mark":{"type":"rule","stroke":"#000","strokeWidth":1.1},"encoding":{"y2":{"field":"logn2"}}},
  {"transform":[{"filter":"datum.k=='da'"}],"mark":{"type":"rule","stroke":"#000","strokeWidth":1.1,"strokeDash":[4,3]},"encoding":{"y2":{"field":"logn2"}}},
  {"transform":[{"filter":"datum.k=='a'||datum.k=='da'"}],"mark":{"type":"point","shape":"M-0.6,1L0,0L0.6,1","filled":false,"stroke":"#000","strokeWidth":1.1,"size":90,"opacity":1},"encoding":{"y":{"field":"logn2","type":"quantitative","scale":{"domain":[3,22.5],"nice":false,"zero":false},"axis":null}}},
  {"transform":[{"filter":"datum.k=='tb'"}],"mark":{"type":"text","fontSize":40,"align":"left","baseline":"alphabetic"},"encoding":{"text":{"field":"txt"}}},
  {"transform":[{"filter":"datum.k=='tu'"}],"mark":{"type":"text","fontSize":30,"align":"left","baseline":"alphabetic"},"encoding":{"text":{"field":"txt"}}}
 ],
 "resolve":{"axis":{"x":"independent","y":"independent"}}}
]
}
